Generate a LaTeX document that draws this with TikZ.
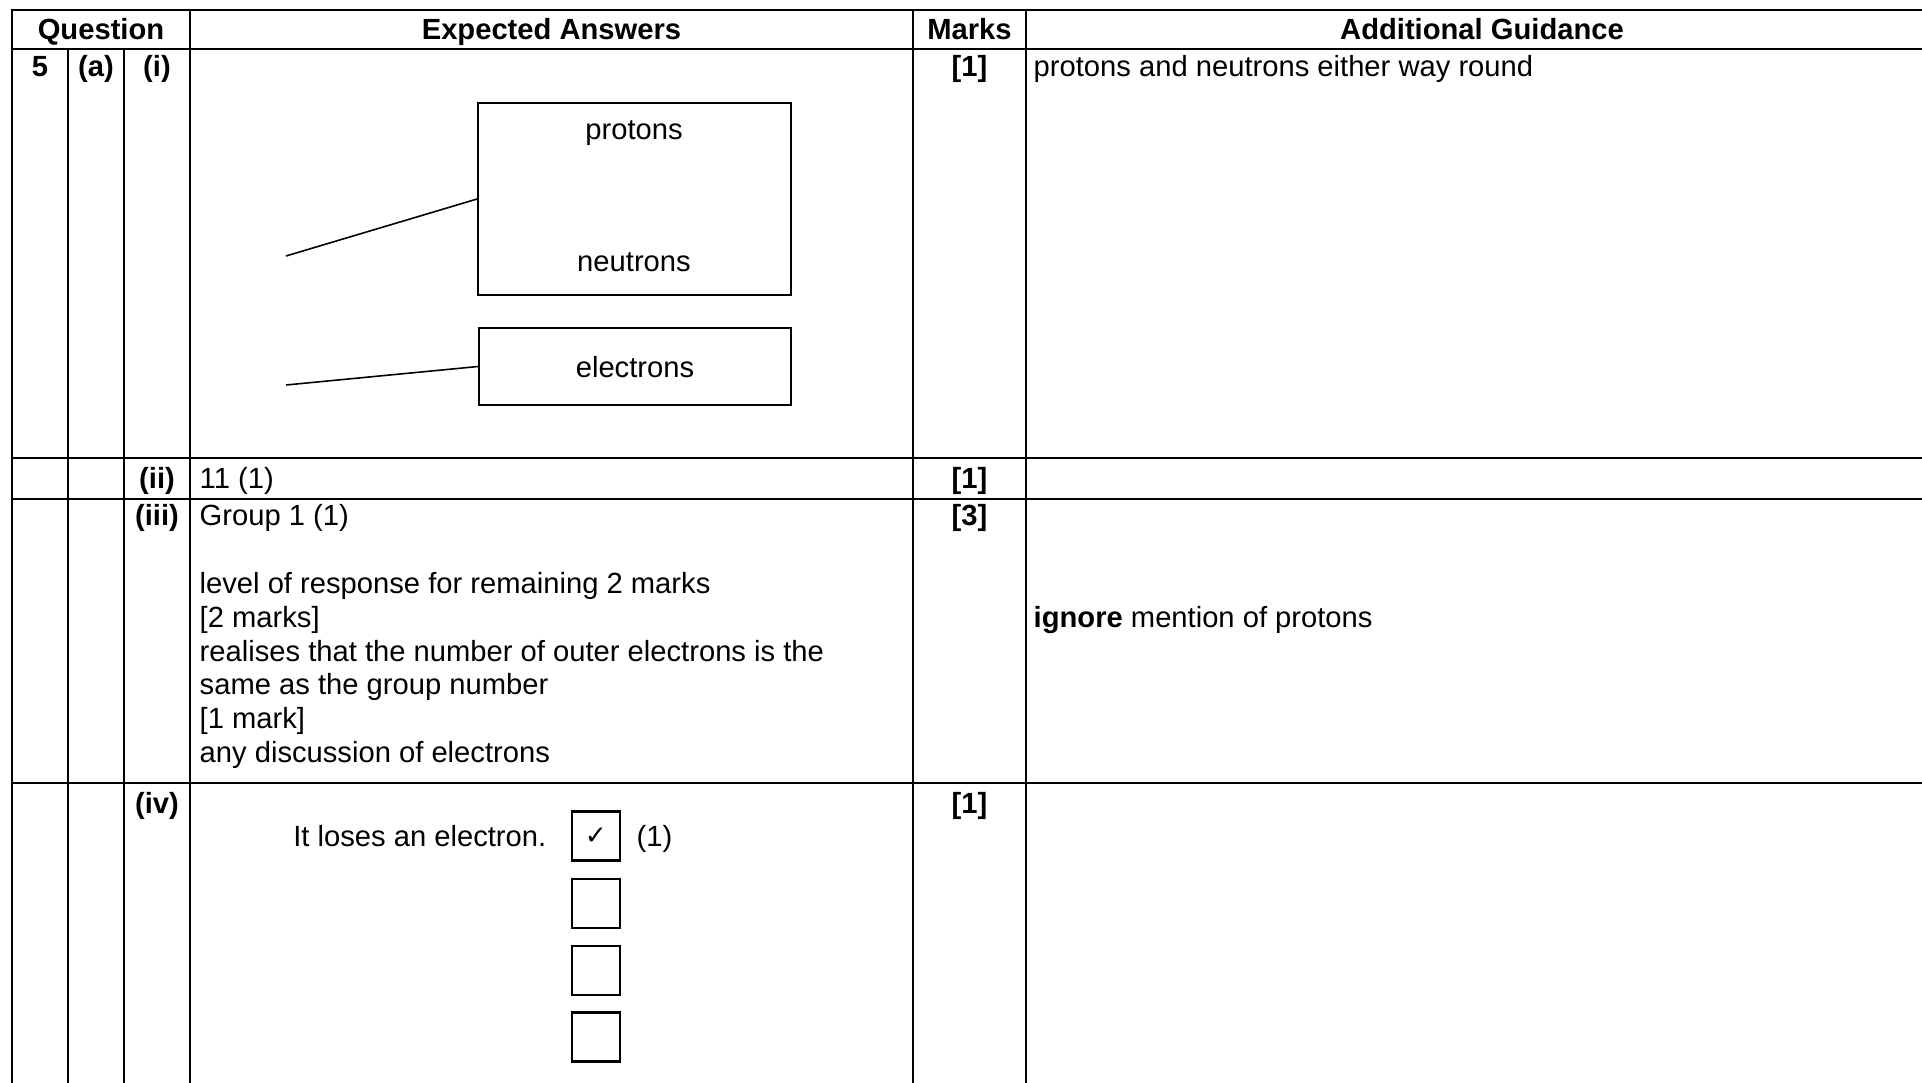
\documentclass[tikz,border=0pt]{standalone}
\usepackage{fontspec}
\setmainfont{Liberation Sans}
\newfontfamily\symfont{DejaVu Sans}
\usepackage{tikz}
\usetikzlibrary{positioning}
\newcommand\tabfont{\fontsize{8.3}{9.62}\selectfont}
\tikzset{grid/.style={line width=0.8pt}, lead/.style={line width=0.45pt},
    ansbox/.style={draw, line width=0.5pt, inner sep=0pt},
    tickbox/.style={draw, line width=0.6pt, minimum width=0.48cm, minimum height=0.49cm, inner sep=0pt},
    txt/.style={inner sep=0pt, anchor=base west, font=\tabfont},
    mid/.style={inner sep=0pt, anchor=base, font=\tabfont},
    hd/.style={inner sep=0pt, anchor=base, font=\tabfont\bfseries}}

\begin{document}
\begin{tikzpicture}
                 \useasboundingbox (0,0) rectangle (19.22,-10.83);
                 \draw[grid] (0.12,-10.90)--(0.12,-0.10)--(19.30,-0.10);
                 \draw[grid] (0.12,-0.49)--(19.30,-0.49);
                 \draw[grid] (0.12,-4.58)--(19.30,-4.58);
                 \draw[grid] (0.12,-4.99)--(19.30,-4.99);
                 \draw[grid] (0.12,-7.83)--(19.30,-7.83);
                 \draw[grid] (0.68,-0.49)--(0.68,-10.90);
                 \draw[grid] (1.24,-0.49)--(1.24,-10.90);
                 \draw[grid] (1.90,-0.10)--(1.90,-10.90);
                 \draw[grid] (9.13,-0.10)--(9.13,-10.90);
                 \draw[grid] (10.26,-0.10)--(10.26,-10.90);

                 \node[hd] (hquest) at (1.01,-0.40) {Question};
                 \node[hd] (hans) at (5.515,-0.40) {Expected Answers};
                 \node[hd] (hmarks) at (9.695,-0.40) {Marks};
                 \node[hd] (hguide) at (14.82,-0.40) {Additional Guidance};

                 \node[hd] (qnum) at (0.40,-0.77) {5};
                 \node[hd] (qpart) at (0.96,-0.77) {(a)};
                 \node[hd] (qi) at (1.57,-0.77) {(i)};
                 \node[hd] (mki) at (9.695,-0.77) {[1]};
                 \node[txt] (gdi) at (10.33,-0.77) {protons and neutrons either way round};

                 \node[ansbox, minimum width=3.13cm, minimum height=1.92cm] (nucleus) at (6.345,-1.99) {};
                 \node[mid] (protons) at (6.34,-1.40) {protons};
                 \node[mid] (neutrons) at (6.34,-2.72) {neutrons};
                 \node[ansbox, minimum width=3.12cm, minimum height=0.77cm] (shell) at (6.35,-3.665) {};
                 \node[mid] (electrons) at (6.35,-3.78) {electrons};
                 \coordinate (nucend) at (2.86,-2.56);
                 \coordinate (elend) at (2.86,-3.85);
                 \draw[lead] (nucend)--(nucleus.west);
                 \draw[lead] (elend)--(shell.west);

                 \node[hd] (qii) at (1.57,-4.88) {(ii)};
                 \node[txt] (ansii) at (1.99,-4.88) {11 (1)};
                 \node[hd] (mkii) at (9.695,-4.88) {[1]};

                 \node[hd] (qiii) at (1.57,-5.26) {(iii)};
                 \node[txt] (ansiiia) at (1.99,-5.26) {Group 1 (1)};
                 \node[txt] (ansiiib) at (1.99,-5.936) {level of response for remaining 2 marks};
                 \node[txt] (ansiiic) at (1.99,-6.274) {[2 marks]};
                 \node[txt] (ansiiid) at (1.99,-6.612) {realises that the number of outer electrons is the};
                 \node[txt] (ansiiie) at (1.99,-6.95) {same as the group number};
                 \node[txt] (ansiiif) at (1.99,-7.288) {[1 mark]};
                 \node[txt] (ansiiig) at (1.99,-7.626) {any discussion of electrons};
                 \node[hd] (mkiii) at (9.695,-5.26) {[3]};
                 \node[txt] (gdiii) at (10.33,-6.28) {{\bfseries ignore} mention of protons};

                 \node[hd] (qiv) at (1.57,-8.13) {(iv)};
                 \node[hd] (mkiv) at (9.695,-8.13) {[1]};
                 \node[txt, anchor=base east] (loses) at (5.47,-8.46) {It loses an electron.};
                 \node[tickbox] (boxa) at (5.96,-8.36) {\symfont\fontsize{7.5}{8}\selectfont ✓};
                 \node[txt] (markiv) at (6.36,-8.46) {(1)};
                 \node[tickbox] (boxb) at (5.96,-9.035) {};
                 \node[tickbox] (boxc) at (5.96,-9.705) {};
                 \node[tickbox] (boxd) at (5.96,-10.37) {};
\end{tikzpicture}
\end{document}
